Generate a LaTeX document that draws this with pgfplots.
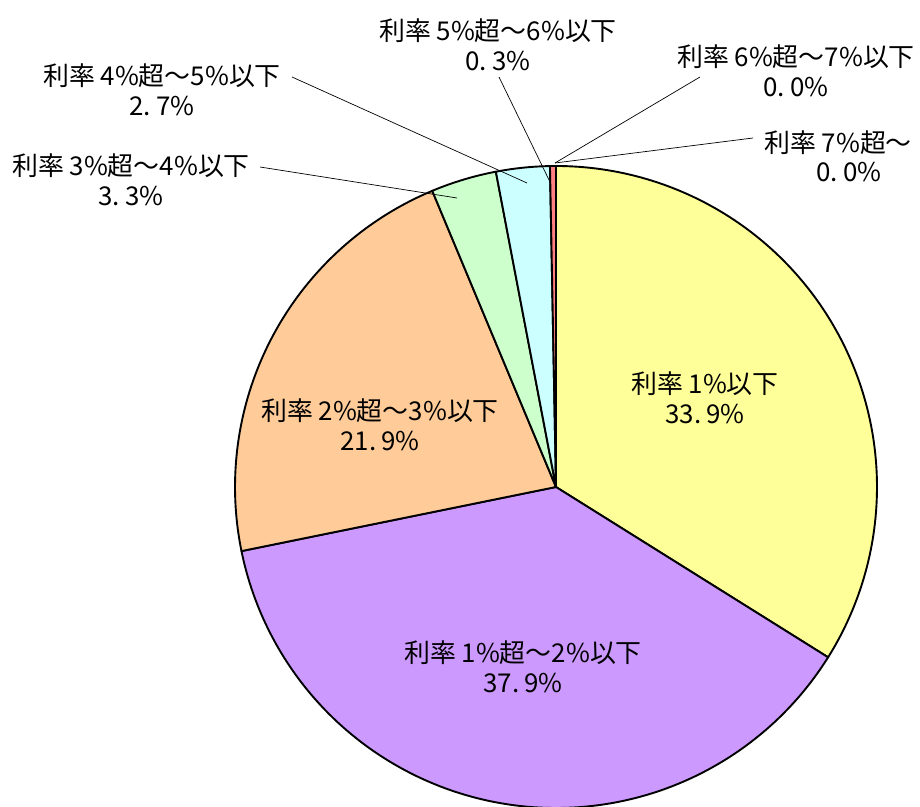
\documentclass[border=0pt]{standalone}
\usepackage{pgfplots}
\pgfplotsset{compat=1.18}
\usepackage{fontspec}
\setmainfont{Noto Sans CJK JP}
\definecolor{cA}{HTML}{FFFF99}
\definecolor{cB}{HTML}{CC99FF}
\definecolor{cC}{HTML}{FFCC99}
\definecolor{cD}{HTML}{CCFFCC}
\definecolor{cE}{HTML}{CCFFFF}
\definecolor{cF}{HTML}{FF8080}
% shares (%), clockwise from 12 o'clock
\def\vA{33.9}\def\vB{37.9}\def\vC{21.9}\def\vD{3.3}\def\vE{2.7}\def\vF{0.3}\def\vG{0.0}\def\vH{0.0}
\pgfmathsetmacro{\aA}{3.6*\vA}
\pgfmathsetmacro{\aB}{\aA+3.6*\vB}
\pgfmathsetmacro{\aC}{\aB+3.6*\vC}
\pgfmathsetmacro{\aD}{\aC+3.6*\vD}
\pgfmathsetmacro{\aE}{\aD+3.6*\vE}
\pgfmathsetmacro{\aF}{\aE+3.6*\vF}
\def\cx{556}\def\cy{319}\def\R{321}
\newcommand{\slice}[4]{% start, end (clockwise deg), color, samples
  \addplot[draw=black, line width=1.9pt, line join=round, fill=#3, domain=90-#2:90-#1, samples=#4, variable=\t]
    ({\cx+\R*cos(\t)},{\cy+\R*sin(\t)}) -- (axis cs:\cx,\cy) -- cycle;}
\newcommand{\dt}{.\hspace{0.2em}}
\begin{document}
\begin{tikzpicture}
\begin{axis}[
  width=920bp, height=806bp, scale only axis, hide axis,
  xmin=0, xmax=920, ymin=0, ymax=806, enlargelimits=false,
  clip mode=individual,
]
\coordinate (bl) at (axis cs:0,0);
\coordinate (tr) at (axis cs:920,806);
\slice{0}{\aA}{cA}{120}
\slice{\aA}{\aB}{cB}{120}
\slice{\aB}{\aC}{cC}{80}
\slice{\aC}{\aD}{cD}{15}
\slice{\aD}{\aE}{cE}{15}
\slice{\aE}{\aF}{cF}{5}
% zero-width slices (6%-7%, 7%-)
\addplot[black, line width=1.9pt] coordinates {(556,319) (556,640)};
\addplot[black, line width=1.9pt] coordinates {(556,319) (556,640)};
% leader lines
\draw[black, line width=0.7pt] (axis cs:260,639) -- (axis cs:457,608);
\draw[black, line width=0.7pt] (axis cs:292,729) -- (axis cs:527,623);
\draw[black, line width=0.7pt] (axis cs:499,729) -- (axis cs:550,624);
\draw[black, line width=0.7pt] (axis cs:700,729) -- (axis cs:555,643);
\draw[black, line width=0.7pt] (axis cs:753,668) -- (axis cs:555,643);
% labels
\tikzset{lab/.style={font=\fontsize{26}{30}\selectfont, align=center, inner sep=0pt}}
\node[lab] at (axis cs:705,408) {利率 1\%以下\\33\dt9\%};
\node[lab] at (axis cs:523,139) {利率 1\%超～2\%以下\\37\dt9\%};
\node[lab] at (axis cs:380,381) {利率 2\%超～3\%以下\\21\dt9\%};
\node[lab] at (axis cs:131,626) {利率 3\%超～4\%以下\\3\dt3\%};
\node[lab] at (axis cs:162,716) {利率 4\%超～5\%以下\\2\dt7\%};
\node[lab] at (axis cs:498,761) {利率 5\%超～6\%以下\\0\dt3\%};
\node[lab] at (axis cs:796,735) {利率 6\%超～7\%以下\\0\dt0\%};
\node[lab] at (axis cs:838,663) {利率 7\%超～};
\node[lab] at (axis cs:849,634) {0\dt0\%};
\end{axis}
\pgfresetboundingbox
\path[use as bounding box] (bl) rectangle (tr);
\end{tikzpicture}
\end{document}
